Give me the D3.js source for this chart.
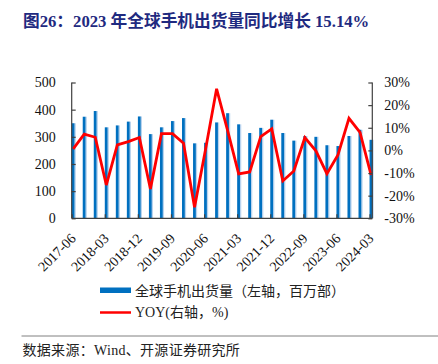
<!DOCTYPE html>
<html>
<head>
<meta charset="utf-8">
<script src="https://cdn.jsdelivr.net/npm/d3@7"></script>
<style>
  body { margin: 0; background: #fff; }
  svg { display: block; }
</style>
</head>
<body>
<svg></svg>
<script>
// quarterly shipments (million units) and YoY growth (%)
const quarters = ['2017-06','2017-09','2017-12','2018-03','2018-06','2018-09','2018-12',
  '2019-03','2019-06','2019-09','2019-12','2020-03','2020-06','2020-09','2020-12',
  '2021-03','2021-06','2021-09','2021-12','2022-03','2022-06','2022-09','2022-12',
  '2023-03','2023-06','2023-09','2023-12','2024-03'];
const shipments = [350,374,395,335,342,356,375,310,335,358,369,276,278,353,387,
  346,314,333,363,314,286,303,300,269,266,303,326,289];
const yoy = [0.7,7.2,5.8,-15.3,2.4,3.9,5.7,-17.0,7.4,7.4,3.2,-25.1,0.5,27.2,8.7,
  -10.4,-9.5,6.1,9.5,-13.5,-9.1,5.7,-0.2,-10.3,-2.0,14.2,8.0,-10.8];
const leftTicks = [0,100,200,300,400,500];
const rightTicks = [-30,-20,-10,0,10,20,30];
const labelEvery = 3;

const width = 438, height = 364;
const plot = {left: 71.7, right: 372.3, top: 82.5, bottom: 218.3};
const serif = '"Liberation Serif", "Times New Roman", serif';
const cjk = '"Noto Sans CJK SC", sans-serif';

const svg = d3.select('svg')
  .attr('width', width)
  .attr('height', height);

const x = d3.scaleLinear().domain([0, quarters.length - 0.75]).range([plot.left, plot.right]);
const yL = d3.scaleLinear().domain([0, 500]).range([plot.bottom, plot.top]);
const yR = d3.scaleLinear().domain([-30, 30]).range([plot.bottom, plot.top]);

// title
svg.append('text')
  .attr('x', 23).attr('y', 27)
  .attr('fill', '#1f2a80')
  .attr('font-weight', 'bold')
  .attr('font-size', 16.7)
  .attr('font-family', serif + ',' + cjk)
  .text('图26：2023 年全球手机出货量同比增长 15.14%');

// bars: dark face plus a light edge
const bars = svg.append('g');
bars.selectAll('rect.light')
  .data(shipments)
  .join('rect')
  .attr('class', 'light')
  .attr('x', (d, i) => x(i) + 2.7)
  .attr('width', 1.4)
  .attr('y', d => yL(d))
  .attr('height', d => plot.bottom - yL(d))
  .attr('fill', '#b9d3ee');
bars.selectAll('rect.dark')
  .data(shipments)
  .join('rect')
  .attr('class', 'dark')
  .attr('x', (d, i) => x(i))
  .attr('width', 2.8)
  .attr('y', d => yL(d))
  .attr('height', d => plot.bottom - yL(d))
  .attr('fill', '#0070c0');

// yoy line
svg.append('path')
  .datum(yoy)
  .attr('fill', 'none')
  .attr('stroke', '#ff0000')
  .attr('stroke-width', 2.8)
  .attr('stroke-linejoin', 'miter')
  .attr('d', d3.line().x((d, i) => x(i) + 1.5).y(d => yR(d)));

// axes
const axisColor = '#404040';
const gl = svg.append('g')
  .attr('transform', `translate(${plot.left},0)`)
  .call(d3.axisLeft(yL).tickValues(leftTicks).tickSize(-4).tickPadding(16));
const gr = svg.append('g')
  .attr('transform', `translate(${plot.right},0)`)
  .call(d3.axisRight(yR).tickValues(rightTicks).tickSize(-4).tickPadding(12)
    .tickFormat(d => d + '%'));
const gx = svg.append('g')
  .attr('transform', `translate(0,${plot.bottom})`)
  .call(d3.axisBottom(x)
    .tickValues(d3.range(0, quarters.length, labelEvery))
    .tickSize(-4)
    .tickFormat(i => quarters[i]));

[gl, gr, gx].forEach(g => {
  g.select('.domain').attr('stroke', axisColor).attr('stroke-width', 1.2);
  g.selectAll('.tick line').attr('stroke', axisColor).attr('stroke-width', 1.2);
  g.selectAll('text')
    .attr('fill', '#111')
    .attr('font-size', 14)
    .attr('font-family', serif);
});
gl.select('.domain').attr('d', `M0,${plot.bottom}V${plot.top}`);
gr.select('.domain').attr('d', `M0,${plot.bottom}V${plot.top}`);
gx.select('.domain').attr('d', `M${plot.left},0H${plot.right}`);

gx.selectAll('.tick text')
  .attr('text-anchor', 'end')
  .attr('dy', null)
  .attr('y', 0)
  .attr('transform', 'translate(4.5,21) rotate(-45)');

// legend
const legend = svg.append('g')
  .attr('font-family', cjk)
  .attr('font-size', 14)
  .attr('fill', '#222');
legend.append('rect')
  .attr('x', 100).attr('y', 287.5)
  .attr('width', 31).attr('height', 5.5)
  .attr('fill', '#0070c0');
legend.append('text')
  .attr('x', 135).attr('y', 296)
  .text('全球手机出货量（左轴，百万部）');
legend.append('line')
  .attr('x1', 100).attr('x2', 131)
  .attr('y1', 312.5).attr('y2', 312.5)
  .attr('stroke', '#ff0000').attr('stroke-width', 2.5);
legend.append('text')
  .attr('x', 135).attr('y', 317)
  .attr('font-family', serif + ',' + cjk)
  .text('YOY(右轴，%)');

// source note
svg.append('line')
  .attr('x1', 21.5).attr('x2', width)
  .attr('y1', 336).attr('y2', 336)
  .attr('stroke', '#808080').attr('stroke-width', 1);
svg.append('text')
  .attr('x', 22.5).attr('y', 355)
  .attr('font-size', 14)
  .attr('letter-spacing', 0.3)
  .attr('fill', '#222')
  .attr('font-family', serif + ',' + cjk)
  .text('数据来源：Wind、开源证券研究所');
</script>
</body>
</html>
